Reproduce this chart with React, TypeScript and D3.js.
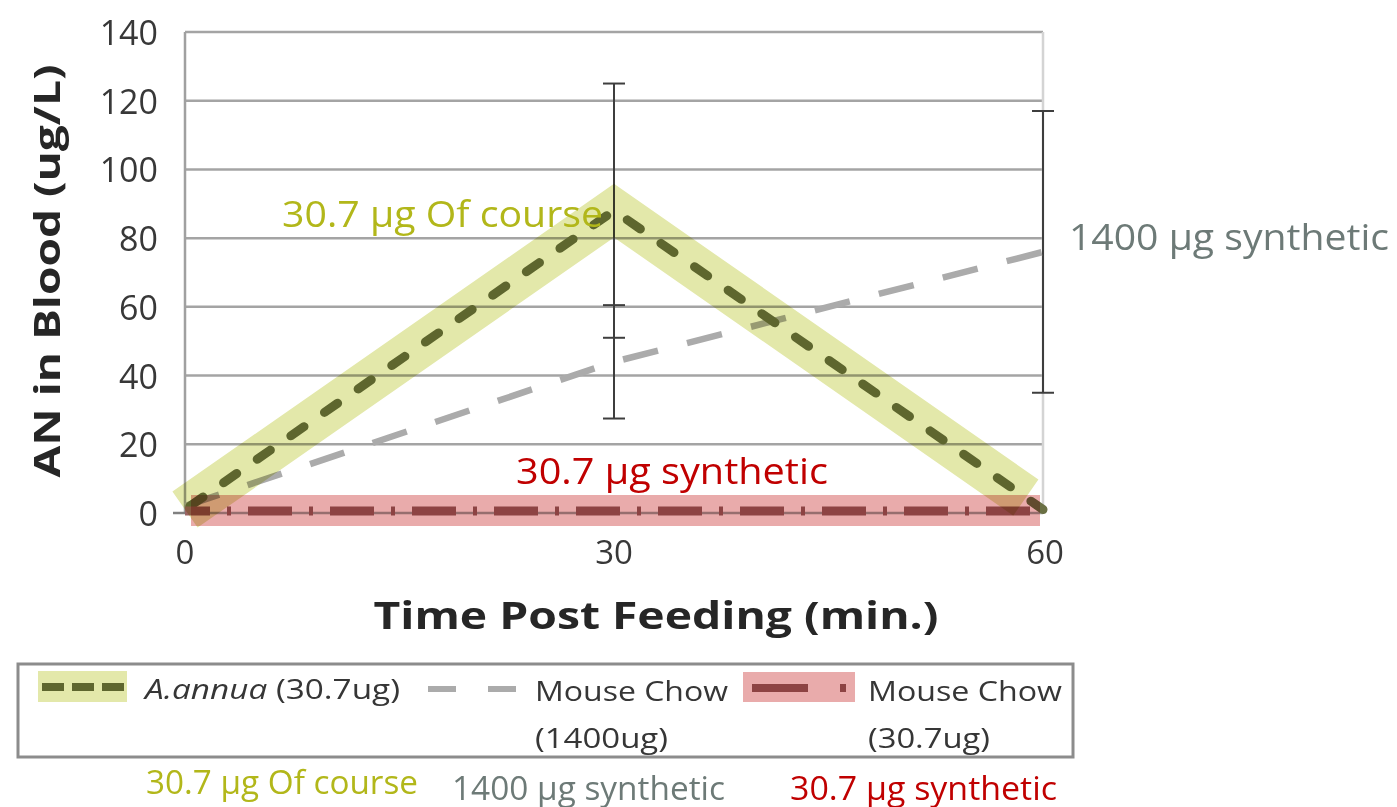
import React from "react";
import * as d3 from "d3";

const times = [0, 30, 60];
const annua = [1, 88, 1];
const annuaErr = [0, 37, 0];
const chow1400 = [2, 44, 76];
const chow1400Err = [0, 16.5, 41];
const chow307 = [0, 0, 0];
const yTicks = [0, 20, 40, 60, 80, 100, 120, 140];
const xTicks = [0, 30, 60];
const xTitle = "Time Post Feeding (min.)";
const yTitle = "AN in Blood (ug/L)";
const legendNames = ["A.annua", "Mouse Chow", "Mouse Chow"];
const legendSubs = ["(30.7ug)", "(1400ug)", "(30.7ug)"];
const annotLabels = ["30.7 µg Of course", "1400 µg synthetic", "30.7 µg synthetic"];
const annotColors = ["#b2b71a", "#6d7a77", "#c00000"];

const W = 1397, H = 807;
const FONT = "'Open Sans', 'DejaVu Sans', sans-serif";

export default function App() {
  const x = d3.scaleLinear().domain([0, 60]).range([185, 1043]);
  const y = d3.scaleLinear().domain([0, 140]).range([513, 32]);
  const line = d3.line<number>().x((_, i) => x(times[i])).y((d) => y(d));

  // highlight band along A.annua, trimmed at the end
  const pts: [number, number][] = annua.map((v, i) => [x(times[i]), y(v)]);
  const n = pts.length;
  const trimEnd = 0.04;
  const last: [number, number] = [
    pts[n - 1][0] + (pts[n - 2][0] - pts[n - 1][0]) * trimEnd,
    pts[n - 1][1] + (pts[n - 2][1] - pts[n - 1][1]) * trimEnd,
  ];
  const bandPts = [...pts.slice(0, n - 1), last];
  const bandLine = d3.line().x((d) => d[0]).y((d) => d[1]);

  const annuaColor = "#6a7044";
  const greyColor = "#ababab";
  const redColor = "#9a6464";

  const errBars: { t: number; v: number; e: number }[] = [];
  times.forEach((t, i) => {
    if (annuaErr[i] > 0) errBars.push({ t, v: annua[i], e: annuaErr[i] });
    if (chow1400Err[i] > 0) errBars.push({ t, v: chow1400[i], e: chow1400Err[i] });
  });

  return (
    <svg width={W} height={H} style={{ position: "absolute", left: 0, top: 0, background: "#fff" }}>
      <rect x={0} y={0} width={W} height={H} fill="#fff" />
      {/* gridlines */}
      {yTicks.map((t) => (
        <line key={"g" + t} x1={x(0)} x2={x(60)} y1={y(t)} y2={y(t)} stroke="#a4a4a4" strokeWidth={2.5} />
      ))}
      {/* right border */}
      <line x1={x(60)} x2={x(60)} y1={y(140)} y2={y(0)} stroke="#d4d4d4" strokeWidth={2.5} />
      {/* y axis */}
      <line x1={x(0)} x2={x(0)} y1={y(140)} y2={y(0)} stroke="#a0a0a0" strokeWidth={2.5} />
      <line x1={x(0) - 12} x2={x(0)} y1={y(0)} y2={y(0)} stroke="#808080" strokeWidth={2.5} />
      {/* y tick labels */}
      {yTicks.map((t) => (
        <text key={"yt" + t} x={158} y={y(t)} textAnchor="end" dominantBaseline="central"
          fontFamily={FONT} fontSize={34} fill="#383838">{t}</text>
      ))}
      {/* x tick labels */}
      {xTicks.map((t) => (
        <text key={"xt" + t} x={x(t) + (t === 60 ? 2 : 0)} y={551} textAnchor="middle" dominantBaseline="central"
          fontFamily={FONT} fontSize={33} fill="#383838">{t}</text>
      ))}
      {/* axis titles */}
      <text x={656} y={614} textAnchor="middle" dominantBaseline="central" fontFamily={FONT}
        fontWeight={700} fontSize={38} fill="#262626" textLength={565} lengthAdjust="spacingAndGlyphs">{xTitle}</text>
      <text transform={`translate(46,271) rotate(-90)`} textAnchor="middle" dominantBaseline="central"
        fontFamily={FONT} fontWeight={700} fontSize={36} fill="#262626" textLength={413}
        lengthAdjust="spacingAndGlyphs">{yTitle}</text>

      {/* error bars */}
      {errBars.map((b, i) => (
        <g key={"eb" + i} stroke="#3e3e3e" strokeWidth={2}>
          <line x1={x(b.t)} x2={x(b.t)} y1={y(b.v + b.e)} y2={y(b.v - b.e)} />
          <line x1={x(b.t) - 11} x2={x(b.t) + 11} y1={y(b.v + b.e)} y2={y(b.v + b.e)} />
          <line x1={x(b.t) - 11} x2={x(b.t) + 11} y1={y(b.v - b.e)} y2={y(b.v - b.e)} />
        </g>
      ))}

      {/* series */}
      <path d={line(chow1400) || ""} fill="none" stroke={greyColor} strokeWidth={6.5} strokeDasharray="36 30"
        strokeLinecap="butt" />
      <path d={line(annua) || ""} fill="none" stroke={annuaColor} strokeWidth={9} strokeDasharray="16 25"
        strokeDashoffset={-6} strokeLinecap="round" />
      <path d={line(chow307) || ""} fill="none" stroke={redColor} strokeWidth={9} strokeDasharray="44 17 4 17"
        strokeDashoffset={19} strokeLinecap="butt" transform="translate(0,-2)" />

      {/* highlights */}
      <path d={bandLine(bandPts as any) || ""} fill="none" stroke="#e3e8aa" strokeWidth={44}
        strokeLinejoin="miter" strokeLinecap="butt" style={{ mixBlendMode: "multiply" }} />
      <rect x={x(0) + 6} y={y(0) - 18} width={x(60) - x(0) - 9} height={31} fill="#e9abab"
        style={{ mixBlendMode: "multiply" }} />

      {/* in-plot annotations */}
      <text x={282} y={213} dominantBaseline="central" fontFamily={FONT} fontSize={36} fill={annotColors[0]}
        textLength={321} lengthAdjust="spacingAndGlyphs">{annotLabels[0]}</text>
      <text x={1069} y={235} dominantBaseline="central" fontFamily={FONT} fontSize={37} fill={annotColors[1]}
        textLength={320} lengthAdjust="spacingAndGlyphs">{annotLabels[1]}</text>
      <text x={516} y={469} dominantBaseline="central" fontFamily={FONT} fontSize={37} fill={annotColors[2]}
        textLength={312} lengthAdjust="spacingAndGlyphs">{annotLabels[2]}</text>

      {/* legend */}
      <rect x={18} y={664} width={1055} height={93} fill="none" stroke="#8c8c8c" strokeWidth={3} />
      <rect x={38} y={671} width={89} height={31} fill="#e3e8aa" />
      <line x1={42} x2={124} y1={687} y2={687} stroke={annuaColor} strokeWidth={8} strokeDasharray="22 8"
        style={{ mixBlendMode: "multiply" }} />
      <text x={145} y={688} dominantBaseline="central" fontFamily={FONT} fontSize={28} fill="#363636"
        textLength={255} lengthAdjust="spacingAndGlyphs">
        <tspan fontStyle="italic">{legendNames[0]}</tspan> {legendSubs[0]}
      </text>
      <line x1={428} x2={518} y1={689} y2={689} stroke={greyColor} strokeWidth={6} strokeDasharray="28 32" />
      <text x={535} y={690} dominantBaseline="central" fontFamily={FONT} fontSize={28} fill="#363636"
        textLength={193} lengthAdjust="spacingAndGlyphs">{legendNames[1]}</text>
      <text x={535} y={737} dominantBaseline="central" fontFamily={FONT} fontSize={28} fill="#363636"
        textLength={133} lengthAdjust="spacingAndGlyphs">{legendSubs[1]}</text>
      <rect x={743} y={672} width={112} height={30} fill="#e9abab" />
      <line x1={752} x2={850} y1={688} y2={688} stroke={redColor} strokeWidth={8} strokeDasharray="56 32 6 10"
        style={{ mixBlendMode: "multiply" }} />
      <text x={868} y={690} dominantBaseline="central" fontFamily={FONT} fontSize={28} fill="#363636"
        textLength={194} lengthAdjust="spacingAndGlyphs">{legendNames[2]}</text>
      <text x={868} y={737} dominantBaseline="central" fontFamily={FONT} fontSize={28} fill="#363636"
        textLength={122} lengthAdjust="spacingAndGlyphs">{legendSubs[2]}</text>

      {/* bottom annotations */}
      <text x={146} y={781} dominantBaseline="central" fontFamily={FONT} fontSize={32} fill={annotColors[0]}
        textLength={272} lengthAdjust="spacingAndGlyphs">{annotLabels[0]}</text>
      <text x={452} y={787} dominantBaseline="central" fontFamily={FONT} fontSize={32} fill={annotColors[1]}
        textLength={273} lengthAdjust="spacingAndGlyphs">{annotLabels[1]}</text>
      <text x={790} y={787} dominantBaseline="central" fontFamily={FONT} fontSize={32} fill={annotColors[2]}
        textLength={267} lengthAdjust="spacingAndGlyphs">{annotLabels[2]}</text>
    </svg>
  );
}
